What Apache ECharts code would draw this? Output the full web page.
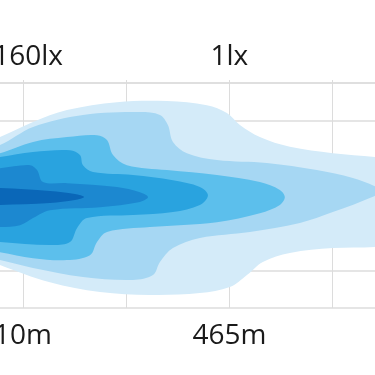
<!DOCTYPE html>
<html>
<head>
<meta charset="utf-8">
<style>html,body{margin:0;padding:0;background:#fff}#chart{width:375px;height:375px}</style>
<script src="https://cdn.jsdelivr.net/npm/echarts@6/dist/echarts.min.js"></script>
</head>
<body>
<div id="chart"></div>
<script>
// Grid tick positions on the distance axis, and which of them carry a label
const xTicks = [0, 100, 200, 300];
const labelTicks = [0, 200];
const topLabels = ['160lx', '1lx'];
const bottomLabels = ['10m', '465m'];

// Isolux contour layers, outermost first: [x, y] in axis units
const layer1 = [[-41.6,14],[-22.3,15.6],[9.7,19.6],[42.6,22.8],[91,24.9],[139.5,25.2],[178.2,24.1],[197.6,22],[210.2,18.8],[229.5,15.6],[258.6,13],[300.2,11.3],[340.9,10.3],[365,9.5],[394,5.5],[404,-1.2],[394,-7.9],[365,-12.7],[340.9,-13.7],[300.2,-14],[258.6,-15.3],[232.4,-17.7],[217,-21.2],[200.5,-24.4],[171.4,-26],[123,-26.5],[74.6,-25.7],[26.1,-23.1],[-22.3,-18.5],[-41.6,-16]];
const layer2 = [[-41.6,12.7],[-22.3,13.5],[9.7,18.3],[58.1,21.5],[113.3,22.3],[132.7,21.5],[140.4,18.8],[145.3,14.3],[158.8,11.3],[187.9,9.5],[236.3,8.7],[284.7,6.8],[319.6,4.7],[340.9,2.5],[347.7,1.2],[340.9,-0.1],[300.2,-4.4],[268.3,-7.3],[219.9,-9.7],[171.4,-11.3],[145.3,-14],[132.7,-17.7],[125.9,-21.2],[106.5,-22.5],[58.1,-21.7],[9.7,-19.3],[-22.3,-17.2],[-41.6,-16.1]];
const layer3 = [[-41.6,10.5],[-22.3,11.3],[9.7,14.3],[42.6,15.6],[71.7,16.1],[81.4,14.8],[87.2,10.8],[100.7,8.1],[139.5,6.8],[187.9,5.5],[229.5,3.6],[248.9,1.5],[253.7,-0.4],[248.9,-2.5],[229.5,-4.7],[187.9,-7.1],[123,-8.4],[81.4,-9.7],[71.7,-12.4],[64.9,-15.9],[42.6,-17.2],[9.7,-16.7],[-22.3,-15.1],[-41.6,-14.5]];
const layer4 = [[-41.6,10],[-22.3,10.3],[9.7,11.6],[45.5,12.1],[55.2,10.8],[58.1,8.1],[67.8,6.3],[106.5,5.5],[145.3,4.1],[171.4,2.3],[179.2,0.1],[171.4,-2.5],[145.3,-4.4],[106.5,-5.2],[62,-6],[52.3,-8.7],[45.5,-12.4],[26.1,-13.2],[-22.3,-12.4],[-41.6,-12.1]];
const layer5 = [[-41.6,7.3],[-22.3,7.3],[6.8,8.1],[13.6,6.8],[19.4,3.6],[42.6,3.3],[91,2.3],[113.3,0.9],[121.1,-0.4],[113.3,-1.7],[74.6,-3.1],[26.1,-3.9],[9.7,-6],[-2.9,-7.9],[-22.3,-8.4],[-41.6,-8.4]];
const layer6 = [[-41.6,1.7],[-22.3,2],[26.1,1.2],[50.3,0.4],[59.1,-0.4],[50.3,-1.2],[26.1,-2],[-22.3,-2.5],[-41.6,-2.5]];

const layers = [layer1, layer2, layer3, layer4, layer5, layer6];
const layerColors = ['#d4ebf9', '#a6d7f3', '#5cbfec', '#29a3df', '#1c88d0', '#0a67b8'];

const chart = echarts.init(document.getElementById('chart'), null, {renderer: 'canvas'});

function labelFor(list, shiftFirst) {
  return function (v) {
    const i = labelTicks.indexOf(v);
    if (i < 0) return '';
    return (i === 0 && shiftFirst) ? '{s|' + list[i] + '}' : list[i];
  };
}

const gridColor = '#dcdcdc';
const labelStyle = {color: '#1a1a1a', fontSize: 28, fontFamily: 'Open Sans'};
function makeX(position, margin, list, shiftFirst, split) {
  return {
    type: 'value', min: -22.3, max: 341.1, position: position,
    axisLine: {show: true, lineStyle: {color: gridColor, width: 1.5}},
    axisTick: {show: true, length: 3, customValues: xTicks, lineStyle: {color: gridColor}},
    splitLine: {show: split, lineStyle: {color: gridColor, width: 1}},
    axisLabel: Object.assign({}, labelStyle, {
      show: true, margin: margin, customValues: labelTicks,
      formatter: labelFor(list, shiftFirst),
      rich: {s: Object.assign({}, labelStyle, {padding: [0, 0, 0, 10]})}
    })
  };
}

chart.setOption({
  animation: false,
  backgroundColor: '#fff',
  grid: {left: 0, right: 0, top: 83, bottom: 67, containLabel: false, outerBoundsMode: 'none'},
  xAxis: [
    makeX('bottom', 14, bottomLabels, false, true),
    makeX('top', 12, topLabels, true, false)
  ],
  yAxis: {
    type: 'value', min: -30, max: 30, interval: 10,
    axisLine: {show: false}, axisTick: {show: false}, axisLabel: {show: false},
    splitLine: {show: true, lineStyle: {color: gridColor, width: 1.5}}
  },
  series: [{
    type: 'custom',
    coordinateSystem: 'cartesian2d',
    xAxisIndex: 0, yAxisIndex: 0,
    clip: false,
    data: layers.map((l, i) => [i]),
    encode: {x: -1, y: -1},
    renderItem: function (params, api) {
      const pts = layers[params.dataIndex].map(p => api.coord(p));
      return {
        type: 'polygon',
        shape: {points: pts, smooth: 0.35},
        style: {fill: layerColors[params.dataIndex], stroke: null}
      };
    }
  }]
});
</script>
</body>
</html>
